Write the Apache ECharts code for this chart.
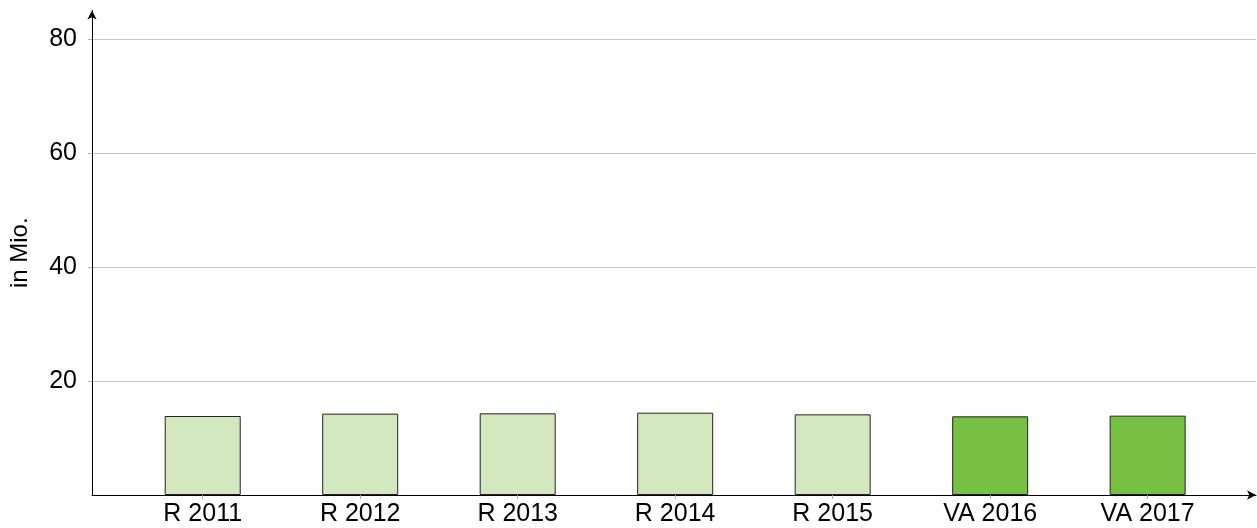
<!DOCTYPE html>
<html>
<head>
<meta charset="utf-8">
<script src="https://cdn.jsdelivr.net/npm/echarts@6/dist/echarts.min.js"></script>
<style>
  html, body { margin: 0; padding: 0; background: #fff; }
  #chart { width: 1257px; height: 528px; }
</style>
</head>
<body>
<div id="chart"></div>
<script>
// Kategorien und Werte (in Mio.)
const categories = ['R 2011', 'R 2012', 'R 2013', 'R 2014', 'R 2015', 'VA 2016', 'VA 2017'];
const values = [13.86, 14.27, 14.33, 14.44, 14.15, 13.8, 13.92];
const yTicks = [20, 40, 60, 80];

const chart = echarts.init(document.getElementById('chart'), null, { renderer: 'canvas' });

const FONT = 'Liberation Sans, Arial, Helvetica, sans-serif';
const positions = categories.map((c, i) => i);

// Ist-Werte hell, Voranschlag dunkel
const colorFor = (label) => label.startsWith('VA') ? '#76c043' : '#d4e8c0';

const option = {
  backgroundColor: '#fff',
  animation: false,
  grid: {
    left: 92,
    right: 1,
    top: 10.5,
    bottom: 33,
    containLabel: false
  },
  xAxis: {
    type: 'value',
    min: -0.703,
    max: 6.688,
    axisLine: {
      show: true,
      onZero: false,
      lineStyle: { color: '#000', width: 1 },
      symbol: ['none', 'arrow'],
      symbolSize: [7, 9]
    },
    axisTick: {
      show: true,
      length: 4,
      customValues: positions,
      lineStyle: { color: '#b0b0b0' }
    },
    axisLabel: {
      customValues: positions,
      formatter: (v) => categories[Math.round(v)] || '',
      color: '#000',
      fontFamily: FONT,
      fontSize: 25,
      margin: 7
    },
    splitLine: { show: false }
  },
  yAxis: {
    type: 'value',
    min: 0,
    max: 85,
    interval: 20,
    name: 'in Mio.',
    nameLocation: 'middle',
    nameRotate: 90,
    nameGap: 60,
    nameTextStyle: {
      color: '#000',
      fontFamily: FONT,
      fontSize: 24
    },
    axisLine: {
      show: true,
      onZero: false,
      lineStyle: { color: '#000', width: 1 },
      symbol: ['none', 'arrow'],
      symbolSize: [7, 9]
    },
    axisTick: {
      show: true,
      length: 4,
      customValues: yTicks,
      lineStyle: { color: '#b0b0b0' }
    },
    axisLabel: {
      customValues: yTicks,
      color: '#000',
      fontFamily: FONT,
      fontSize: 25,
      margin: 15
    },
    splitLine: {
      show: true,
      lineStyle: { color: '#c8c8c8', width: 1 }
    }
  },
  series: [{
    type: 'bar',
    barWidth: 76,
    data: values.map((v, i) => ({
      value: [i, v],
      itemStyle: {
        color: colorFor(categories[i]),
        borderColor: '#222',
        borderWidth: 1
      }
    }))
  }]
};

chart.setOption(option);
</script>
</body>
</html>
